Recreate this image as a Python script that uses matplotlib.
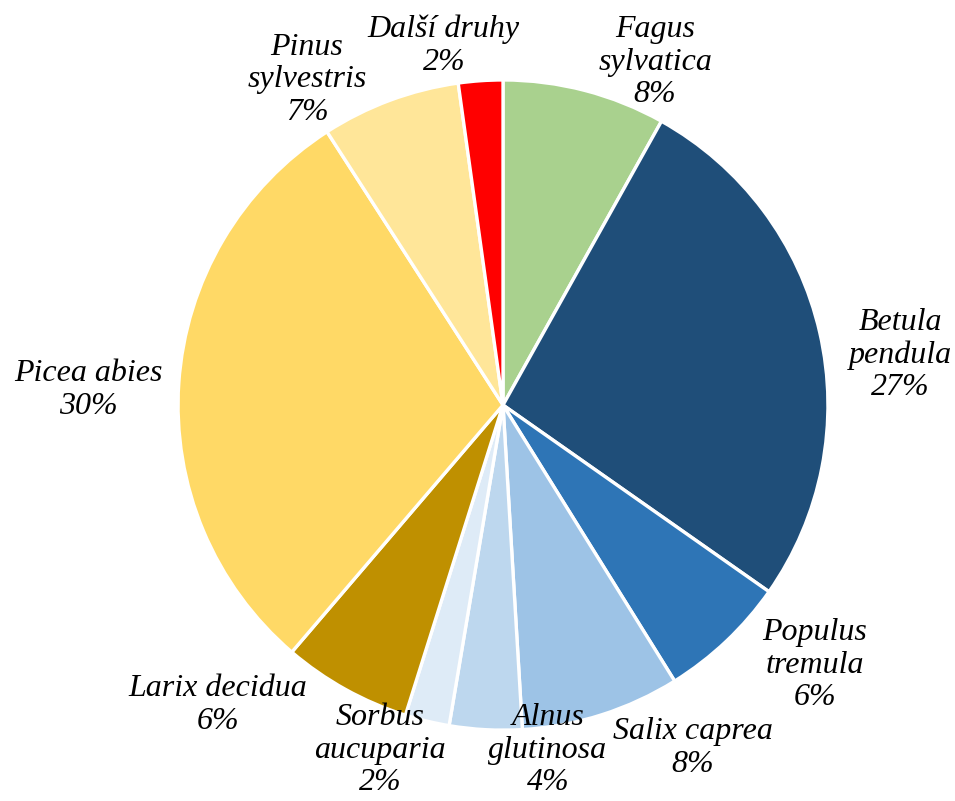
import matplotlib.pyplot as plt

#Data
species = ['Fagus\nsylvatica', 'Betula\npendula', 'Populus\ntremula', 'Salix caprea',
           'Alnus\nglutinosa', 'Sorbus\naucuparia', 'Larix decidua', 'Picea abies',
           'Pinus\nsylvestris', 'Další druhy']
shares = [8.1, 26.6, 6.4, 7.9, 3.6, 2.2, 6.4, 29.6, 6.9, 2.2]
colors = ['#A9D18E', '#1F4E79', '#2E75B6', '#9DC3E6', '#BDD7EE',
          '#DEEBF7', '#BF9000', '#FFD966', '#FFE699', '#FF0000']

#Label placement (data units, pie radius = 1)
label_pos = [(0.468, 1.055), (1.222, 0.154), (0.96, -0.80), (0.585, -1.055),
             (0.138, -1.062), (-0.378, -1.062), (-0.877, -0.923), (-1.277, 0.046),
             (-0.603, 1.0), (-0.182, 1.105)]

fig = plt.figure(figsize=(9.55, 8.01), dpi=100)
ax = fig.add_axes([0, 0, 1, 1])

wedges, _ = ax.pie(shares, colors=colors, startangle=90, counterclock=False,
                   radius=1, wedgeprops=dict(edgecolor='white', linewidth=2.4))

total = sum(shares)
for name, val, (x, y) in zip(species, shares, label_pos):
  ax.text(x, y, '%s\n%.0f%%' % (name, val / total * 100),
          ha='center', va='center', fontsize=23, fontstyle='italic',
          family='Liberation Serif', linespacing=1.15)

ax.set_xlim(-1.548, 1.391)
ax.set_ylim(-1.218, 1.246)
ax.set_aspect('auto')
ax.axis('off')

fig.savefig('out.png', dpi=100)
